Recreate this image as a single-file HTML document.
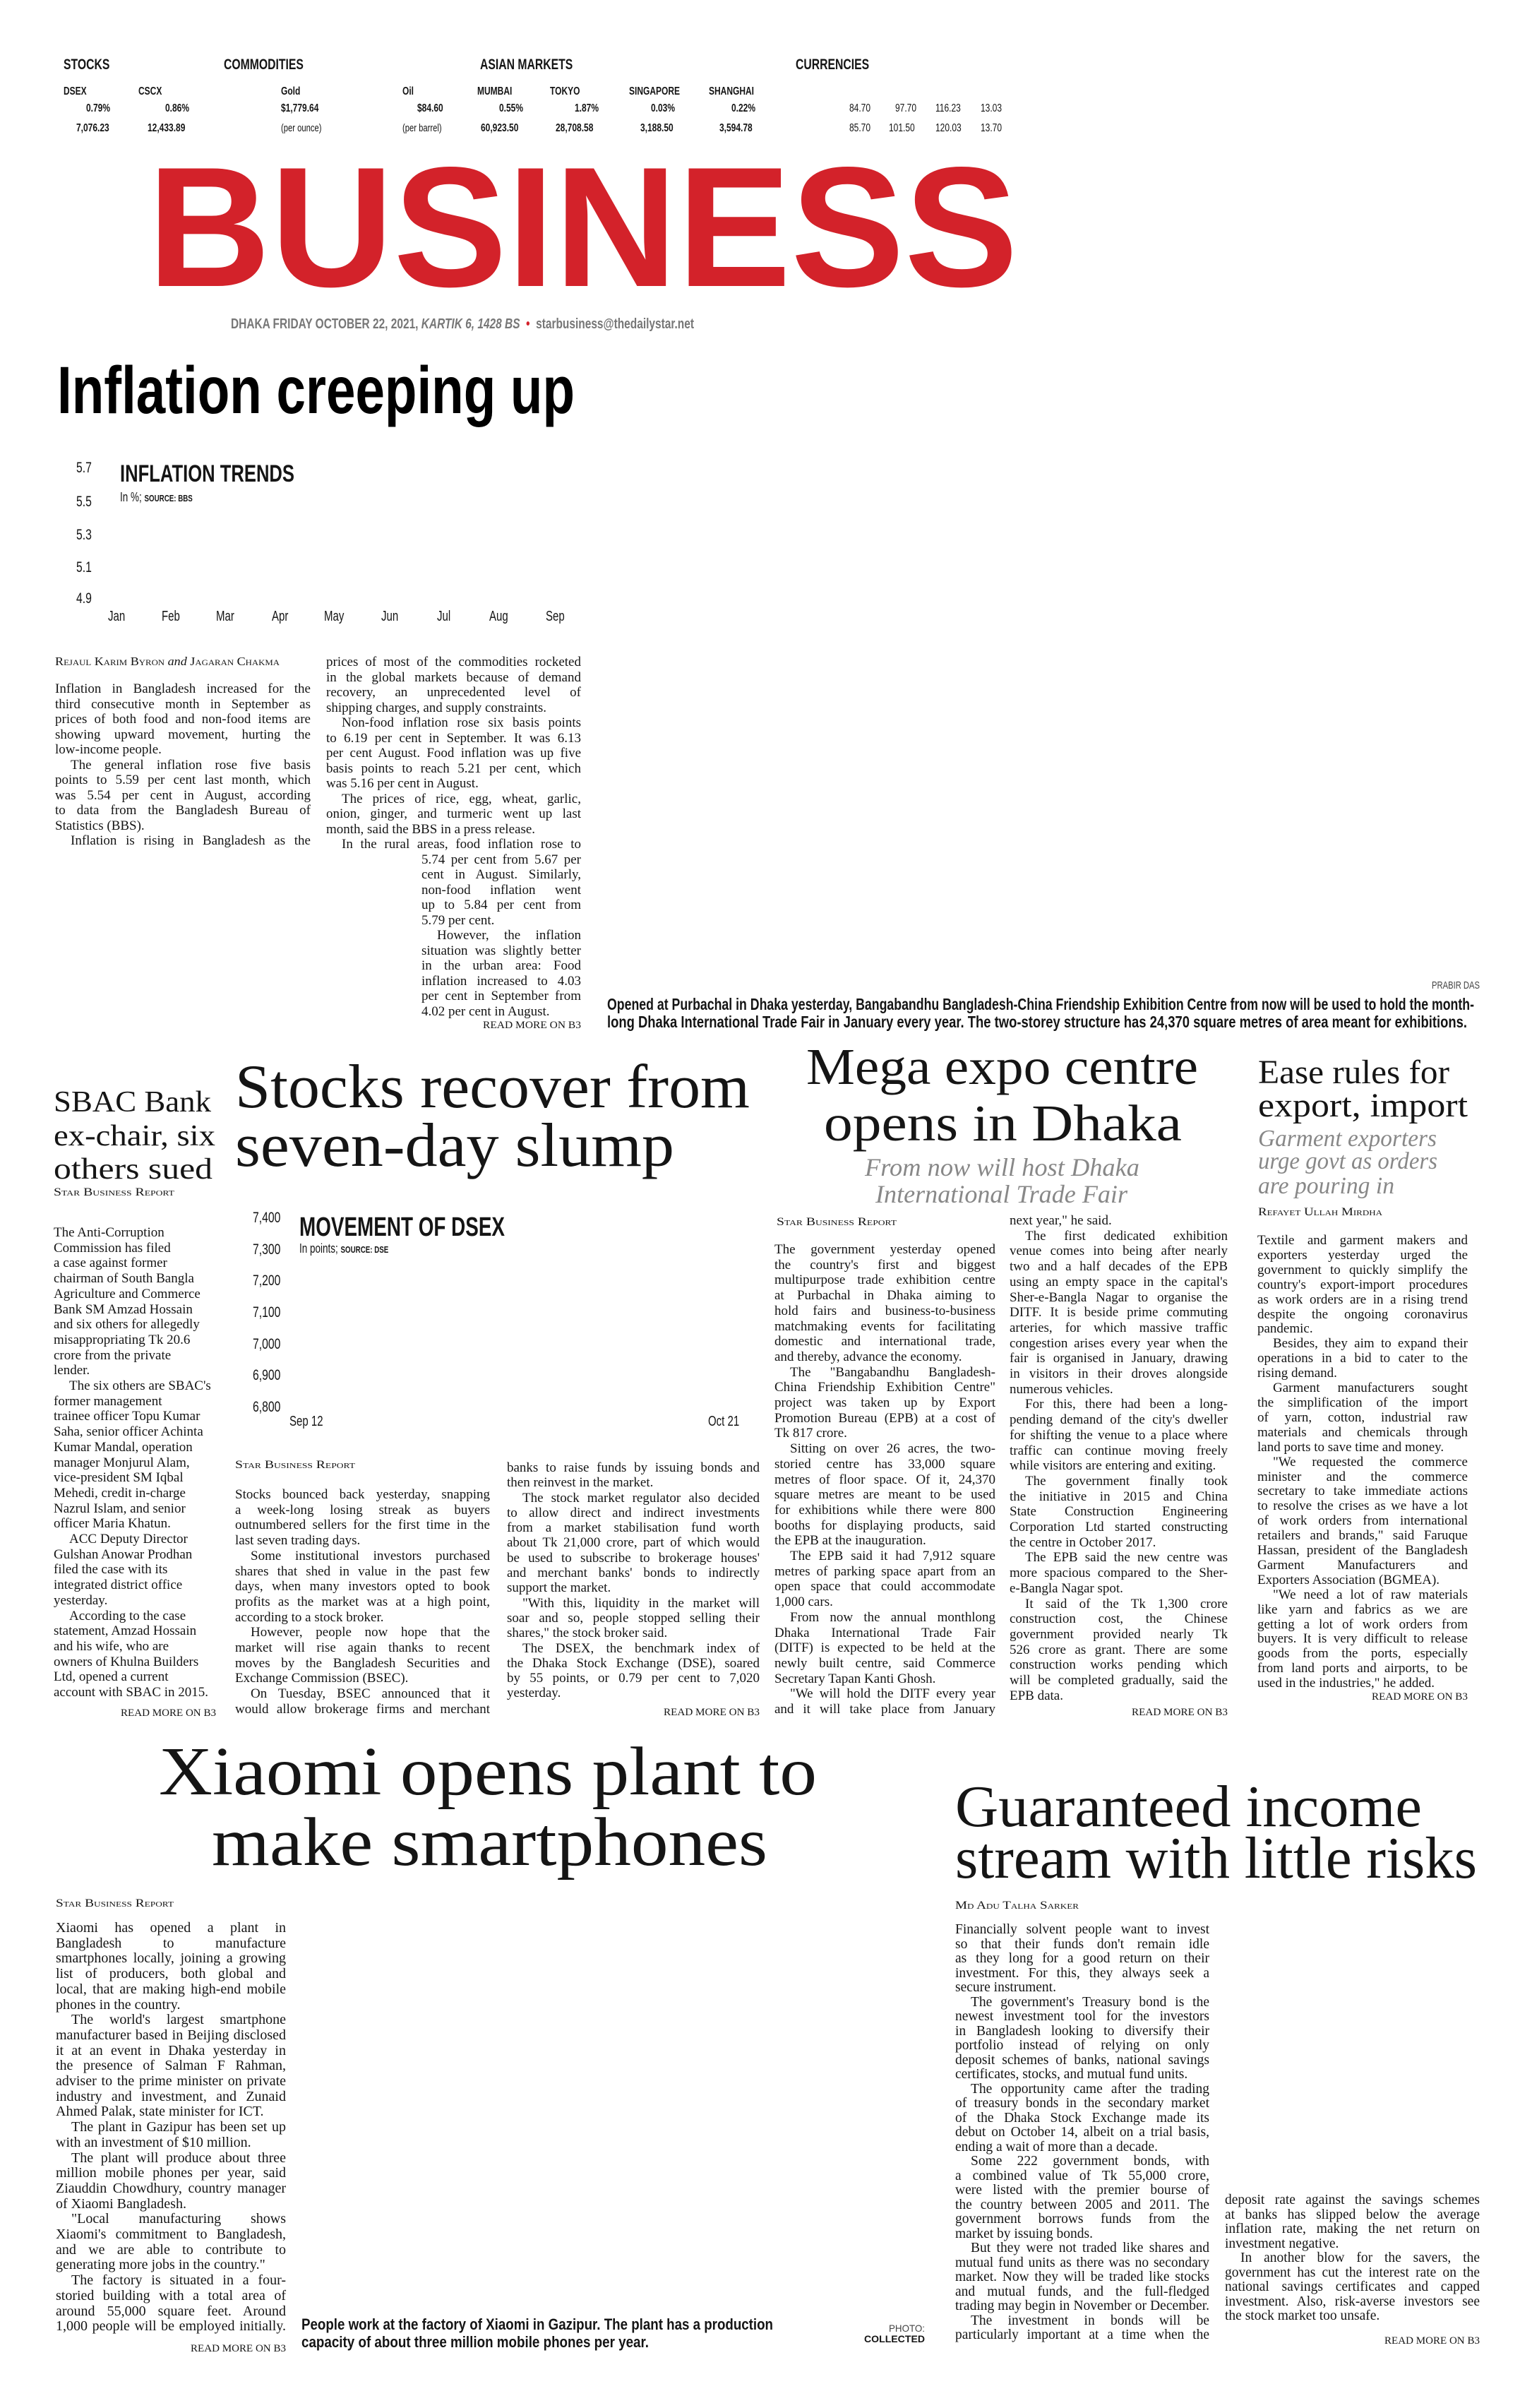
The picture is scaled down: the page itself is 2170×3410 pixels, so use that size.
<!DOCTYPE html>
<html><head><meta charset="utf-8">
<style>
body{margin:0;width:2170px;height:3410px;position:relative;background:#fff;overflow:hidden;font-family:"Liberation Serif",serif;color:#151515}
.a{position:absolute;white-space:nowrap;line-height:1}
.s{font-family:"Liberation Sans",sans-serif}
.b{font-weight:bold}
.n{transform:scaleX(.75);transform-origin:left}
.sc{font-variant:small-caps;font-size:17px}
.col{position:absolute;font-family:"Liberation Serif",serif;font-size:19px;line-height:21.5px}
.col div{text-align:justify;text-align-last:justify}
.col div.l{text-align-last:left}
.col div.i{text-indent:22px}
.rag div{text-align:left;text-align-last:left}
.rm{font-size:15px}
.tk{font-size:16px;font-weight:bold}
</style></head><body>

<!-- ticker -->
<div class="a s b n" style="left:90px;top:81px;font-size:21px">STOCKS</div>
<div class="a s b n" style="left:317px;top:81px;font-size:21px">COMMODITIES</div>
<div class="a s b n" style="left:680px;top:81px;font-size:21px">ASIAN MARKETS</div>
<div class="a s b n" style="left:1127px;top:81px;font-size:21px">CURRENCIES</div>

<div class="a s tk n" style="left:90px;top:122px">DSEX</div>
<div class="a s tk n" style="left:196px;top:122px">CSCX</div>
<div class="a s tk n" style="left:398px;top:122px">Gold</div>
<div class="a s tk n" style="left:570px;top:122px">Oil</div>
<div class="a s tk n" style="left:676px;top:122px">MUMBAI</div>
<div class="a s tk n" style="left:779px;top:122px">TOKYO</div>
<div class="a s tk n" style="left:891px;top:122px">SINGAPORE</div>
<div class="a s tk n" style="left:1004px;top:122px">SHANGHAI</div>

<div class="a s tk n" style="left:122px;top:146px">0.79%</div>
<div class="a s tk n" style="left:234px;top:146px">0.86%</div>
<div class="a s tk n" style="left:398px;top:146px">$1,779.64</div>
<div class="a s tk n" style="left:591px;top:146px">$84.60</div>
<div class="a s tk n" style="left:707px;top:146px">0.55%</div>
<div class="a s tk n" style="left:814px;top:146px">1.87%</div>
<div class="a s tk n" style="left:922px;top:146px">0.03%</div>
<div class="a s tk n" style="left:1036px;top:146px">0.22%</div>
<div class="a s n" style="left:1203px;top:146px;font-size:16px">84.70</div>
<div class="a s n" style="left:1268px;top:146px;font-size:16px">97.70</div>
<div class="a s n" style="left:1325px;top:146px;font-size:16px">116.23</div>
<div class="a s n" style="left:1389px;top:146px;font-size:16px">13.03</div>

<div class="a s tk n" style="left:108px;top:174px">7,076.23</div>
<div class="a s tk n" style="left:209px;top:174px">12,433.89</div>
<div class="a s n" style="left:398px;top:174px;font-size:15px">(per ounce)</div>
<div class="a s n" style="left:570px;top:174px;font-size:15px">(per barrel)</div>
<div class="a s tk n" style="left:681px;top:174px">60,923.50</div>
<div class="a s tk n" style="left:787px;top:174px">28,708.58</div>
<div class="a s tk n" style="left:907px;top:174px">3,188.50</div>
<div class="a s tk n" style="left:1019px;top:174px">3,594.78</div>
<div class="a s n" style="left:1203px;top:174px;font-size:16px">85.70</div>
<div class="a s n" style="left:1259px;top:174px;font-size:16px">101.50</div>
<div class="a s n" style="left:1325px;top:174px;font-size:16px">120.03</div>
<div class="a s n" style="left:1389px;top:174px;font-size:16px">13.70</div>

<!-- masthead -->
<div class="a s b f" style="--w:1233px;left:209px;top:201px;font-size:242px;color:#d3222a">BUSINESS</div>
<div class="a s b f" style="--w:656px;left:327px;top:449px;font-size:20px;color:#777">DHAKA FRIDAY OCTOBER 22, 2021, <i>KARTIK 6, 1428 BS</i> &nbsp;<span style="color:#d3222a">•</span>&nbsp; starbusiness@thedailystar.net</div>

<!-- Inflation -->
<div class="a s b f" style="--w:733px;left:81px;top:506px;font-size:95px;color:#000">Inflation creeping up</div>
<div class="a s n" style="left:108px;top:652px;font-size:21px">5.7</div>
<div class="a s n" style="left:108px;top:700px;font-size:21px">5.5</div>
<div class="a s n" style="left:108px;top:747px;font-size:21px">5.3</div>
<div class="a s n" style="left:108px;top:793px;font-size:21px">5.1</div>
<div class="a s n" style="left:108px;top:837px;font-size:21px">4.9</div>
<div class="a s b f" style="--w:247px;left:170px;top:654px;font-size:34px">INFLATION TRENDS</div>
<div class="a s n" style="left:170px;top:695px;font-size:18px">In %; <b style="font-size:13px">SOURCE: BBS</b></div>
<div class="a s n" style="left:153px;top:863px;font-size:20px">Jan</div>
<div class="a s n" style="left:229px;top:863px;font-size:20px">Feb</div>
<div class="a s n" style="left:306px;top:863px;font-size:20px">Mar</div>
<div class="a s n" style="left:385px;top:863px;font-size:20px">Apr</div>
<div class="a s n" style="left:459px;top:863px;font-size:20px">May</div>
<div class="a s n" style="left:540px;top:863px;font-size:20px">Jun</div>
<div class="a s n" style="left:619px;top:863px;font-size:20px">Jul</div>
<div class="a s n" style="left:693px;top:863px;font-size:20px">Aug</div>
<div class="a s n" style="left:773px;top:863px;font-size:20px">Sep</div>

<div class="a sc f" style="--w:318px;left:78px;top:928px">Rejaul Karim Byron <i style="font-variant:normal">and</i> Jagaran Chakma</div>

<div class="col" style="left:78px;top:965px;width:362px">
<div>Inflation in Bangladesh increased for the</div>
<div>third consecutive month in September as</div>
<div>prices of both food and non-food items are</div>
<div>showing upward movement, hurting the</div>
<div class="l">low-income people.</div>
<div class="i">The general inflation rose five basis</div>
<div>points to 5.59 per cent last month, which</div>
<div>was 5.54 per cent in August, according</div>
<div>to data from the Bangladesh Bureau of</div>
<div class="l">Statistics (BBS).</div>
<div class="i">Inflation is rising in Bangladesh as the</div>
</div>

<div class="col" style="left:462px;top:927px;width:361px">
<div>prices of most of the commodities rocketed</div>
<div>in the global markets because of demand</div>
<div>recovery, an unprecedented level of</div>
<div class="l">shipping charges, and supply constraints.</div>
<div class="i">Non-food inflation rose six basis points</div>
<div>to 6.19 per cent in September. It was 6.13</div>
<div>per cent August. Food inflation was up five</div>
<div>basis points to reach 5.21 per cent, which</div>
<div class="l">was 5.16 per cent in August.</div>
<div class="i">The prices of rice, egg, wheat, garlic,</div>
<div>onion, ginger, and turmeric went up last</div>
<div class="l">month, said the BBS in a press release.</div>
<div class="i">In the rural areas, food inflation rose to</div>
<div style="margin-left:135px">5.74 per cent from 5.67 per</div>
<div style="margin-left:135px">cent in August. Similarly,</div>
<div style="margin-left:135px">non-food inflation went</div>
<div style="margin-left:135px">up to 5.84 per cent from</div>
<div class="l" style="margin-left:135px">5.79 per cent.</div>
<div class="i" style="margin-left:135px">However, the inflation</div>
<div style="margin-left:135px">situation was slightly better</div>
<div style="margin-left:135px">in the urban area: Food</div>
<div style="margin-left:135px">inflation increased to 4.03</div>
<div style="margin-left:135px">per cent in September from</div>
<div class="l" style="margin-left:135px">4.02 per cent in August.</div>
</div>
<div class="a rm f" style="--w:139px;left:684px;top:1445px">READ MORE ON B3</div>

<div class="a s f" style="--w:68px;left:2028px;top:1388px;font-size:15px;color:#444">PRABIR DAS</div>
<div class="a s b f" style="--w:1228px;left:860px;top:1411px;font-size:23px">Opened at Purbachal in Dhaka yesterday, Bangabandhu Bangladesh-China Friendship Exhibition Centre from now will be used to hold the month-</div>
<div class="a s b f" style="--w:1218px;left:860px;top:1436px;font-size:23px">long Dhaka International Trade Fair in January every year. The two-storey structure has 24,370 square metres of area meant for exhibitions.</div>

<!-- Row 2 headlines -->
<div class="a f" style="--w:223px;left:76px;top:1540px;font-size:42px">SBAC Bank</div>
<div class="a f" style="--w:229px;left:76px;top:1588px;font-size:42px">ex-chair, six</div>
<div class="a f" style="--w:225px;left:76px;top:1635px;font-size:42px">others sued</div>

<div class="a f" style="--w:729px;left:333px;top:1496px;font-size:88px">Stocks recover from</div>
<div class="a f" style="--w:622px;left:333px;top:1579px;font-size:88px">seven-day slump</div>

<div class="a f" style="--w:555px;left:1142px;top:1474px;font-size:73px">Mega expo centre</div>
<div class="a f" style="--w:507px;left:1167px;top:1554px;font-size:73px">opens in Dhaka</div>
<div class="a f" style="--w:389px;left:1225px;top:1635px;font-size:36px;font-style:italic;color:#888">From now will host Dhaka</div>
<div class="a f" style="--w:357px;left:1240px;top:1673px;font-size:36px;font-style:italic;color:#888">International Trade Fair</div>

<div class="a f" style="--w:271px;left:1782px;top:1495px;font-size:48px">Ease rules for</div>
<div class="a f" style="--w:297px;left:1782px;top:1542px;font-size:48px">export, import</div>
<div class="a f" style="--w:253px;left:1782px;top:1596px;font-size:34px;font-style:italic;color:#888">Garment exporters</div>
<div class="a f" style="--w:254px;left:1782px;top:1628px;font-size:34px;font-style:italic;color:#888">urge govt as orders</div>
<div class="a f" style="--w:193px;left:1782px;top:1663px;font-size:34px;font-style:italic;color:#888">are pouring in</div>

<div class="a sc f" style="--w:171px;left:76px;top:1681px;font-size:16px">Star Business Report</div>
<div class="a sc f" style="--w:176px;left:1782px;top:1709px;font-size:16px">Refayet Ullah Mirdha</div>
<div class="a sc f" style="--w:170px;left:1100px;top:1723px;font-size:16px">Star Business Report</div>
<div class="a sc f" style="--w:170px;left:333px;top:2067px;font-size:16px">Star Business Report</div>

<!-- DSEX chart -->
<div class="a s n" style="left:358px;top:1714px;font-size:21px">7,400</div>
<div class="a s n" style="left:358px;top:1759px;font-size:21px">7,300</div>
<div class="a s n" style="left:358px;top:1803px;font-size:21px">7,200</div>
<div class="a s n" style="left:358px;top:1848px;font-size:21px">7,100</div>
<div class="a s n" style="left:358px;top:1893px;font-size:21px">7,000</div>
<div class="a s n" style="left:358px;top:1937px;font-size:21px">6,900</div>
<div class="a s n" style="left:358px;top:1982px;font-size:21px">6,800</div>
<div class="a s b f" style="--w:291px;left:424px;top:1719px;font-size:38px">MOVEMENT OF DSEX</div>
<div class="a s n" style="left:424px;top:1759px;font-size:18px">In points; <b style="font-size:13px">SOURCE: DSE</b></div>
<div class="a s n" style="left:410px;top:2003px;font-size:20px">Sep 12</div>
<div class="a s n" style="left:1003px;top:2003px;font-size:20px">Oct 21</div>

<!-- SBAC body -->
<div class="col rag" style="left:76px;top:1735px;width:229px;line-height:21.7px">
<div>The Anti-Corruption</div>
<div>Commission has filed</div>
<div>a case against former</div>
<div>chairman of South Bangla</div>
<div>Agriculture and Commerce</div>
<div>Bank SM Amzad Hossain</div>
<div>and six others for allegedly</div>
<div>misappropriating Tk 20.6</div>
<div>crore from the private</div>
<div>lender.</div>
<div class="i">The six others are SBAC's</div>
<div>former management</div>
<div>trainee officer Topu Kumar</div>
<div>Saha, senior officer Achinta</div>
<div>Kumar Mandal, operation</div>
<div>manager Monjurul Alam,</div>
<div>vice-president SM Iqbal</div>
<div>Mehedi, credit in-charge</div>
<div>Nazrul Islam, and senior</div>
<div>officer Maria Khatun.</div>
<div class="i">ACC Deputy Director</div>
<div>Gulshan Anowar Prodhan</div>
<div>filed the case with its</div>
<div>integrated district office</div>
<div>yesterday.</div>
<div class="i">According to the case</div>
<div>statement, Amzad Hossain</div>
<div>and his wife, who are</div>
<div>owners of Khulna Builders</div>
<div>Ltd, opened a current</div>
<div>account with SBAC in 2015.</div>
</div>
<div class="a rm f" style="--w:135px;left:171px;top:2419px">READ MORE ON B3</div>

<!-- Stocks body -->
<div class="col" style="left:333px;top:2106px;width:361px;line-height:21.7px">
<div>Stocks bounced back yesterday, snapping</div>
<div>a week-long losing streak as buyers</div>
<div>outnumbered sellers for the first time in the</div>
<div class="l">last seven trading days.</div>
<div class="i">Some institutional investors purchased</div>
<div>shares that shed in value in the past few</div>
<div>days, when many investors opted to book</div>
<div>profits as the market was at a high point,</div>
<div class="l">according to a stock broker.</div>
<div class="i">However, people now hope that the</div>
<div>market will rise again thanks to recent</div>
<div>moves by the Bangladesh Securities and</div>
<div class="l">Exchange Commission (BSEC).</div>
<div class="i">On Tuesday, BSEC announced that it</div>
<div>would allow brokerage firms and merchant</div>
</div>
<div class="col" style="left:718px;top:2068px;width:358px;line-height:21.3px">
<div>banks to raise funds by issuing bonds and</div>
<div class="l">then reinvest in the market.</div>
<div class="i">The stock market regulator also decided</div>
<div>to allow direct and indirect investments</div>
<div>from a market stabilisation fund worth</div>
<div>about Tk 21,000 crore, part of which would</div>
<div>be used to subscribe to brokerage houses'</div>
<div>and merchant banks' bonds to indirectly</div>
<div class="l">support the market.</div>
<div class="i">"With this, liquidity in the market will</div>
<div>soar and so, people stopped selling their</div>
<div class="l">shares," the stock broker said.</div>
<div class="i">The DSEX, the benchmark index of</div>
<div>the Dhaka Stock Exchange (DSE), soared</div>
<div>by 55 points, or 0.79 per cent to 7,020</div>
<div class="l">yesterday.</div>
</div>
<div class="a rm f" style="--w:136px;left:940px;top:2418px">READ MORE ON B3</div>

<!-- Mega body -->
<div class="col" style="left:1097px;top:1759px;width:313px;line-height:21.7px">
<div>The government yesterday opened</div>
<div>the country's first and biggest</div>
<div>multipurpose trade exhibition centre</div>
<div>at Purbachal in Dhaka aiming to</div>
<div>hold fairs and business-to-business</div>
<div>matchmaking events for facilitating</div>
<div>domestic and international trade,</div>
<div class="l">and thereby, advance the economy.</div>
<div class="i">The "Bangabandhu Bangladesh-</div>
<div>China Friendship Exhibition Centre"</div>
<div>project was taken up by Export</div>
<div>Promotion Bureau (EPB) at a cost of</div>
<div class="l">Tk 817 crore.</div>
<div class="i">Sitting on over 26 acres, the two-</div>
<div>storied centre has 33,000 square</div>
<div>metres of floor space. Of it, 24,370</div>
<div>square metres are meant to be used</div>
<div>for exhibitions while there were 800</div>
<div>booths for displaying products, said</div>
<div class="l">the EPB at the inauguration.</div>
<div class="i">The EPB said it had 7,912 square</div>
<div>metres of parking space apart from an</div>
<div>open space that could accommodate</div>
<div class="l">1,000 cars.</div>
<div class="i">From now the annual monthlong</div>
<div>Dhaka International Trade Fair</div>
<div>(DITF) is expected to be held at the</div>
<div>newly built centre, said Commerce</div>
<div class="l">Secretary Tapan Kanti Ghosh.</div>
<div class="i">"We will hold the DITF every year</div>
<div>and it will take place from January</div>
</div>
<div class="col" style="left:1430px;top:1718px;width:309px;line-height:21.7px">
<div class="l">next year," he said.</div>
<div class="i">The first dedicated exhibition</div>
<div>venue comes into being after nearly</div>
<div>two and a half decades of the EPB</div>
<div>using an empty space in the capital's</div>
<div>Sher-e-Bangla Nagar to organise the</div>
<div>DITF. It is beside prime commuting</div>
<div>arteries, for which massive traffic</div>
<div>congestion arises every year when the</div>
<div>fair is organised in January, drawing</div>
<div>in visitors in their droves alongside</div>
<div class="l">numerous vehicles.</div>
<div class="i">For this, there had been a long-</div>
<div>pending demand of the city's dweller</div>
<div>for shifting the venue to a place where</div>
<div>traffic can continue moving freely</div>
<div class="l">while visitors are entering and exiting.</div>
<div class="i">The government finally took</div>
<div>the initiative in 2015 and China</div>
<div>State Construction Engineering</div>
<div>Corporation Ltd started constructing</div>
<div class="l">the centre in October 2017.</div>
<div class="i">The EPB said the new centre was</div>
<div>more spacious compared to the Sher-</div>
<div class="l">e-Bangla Nagar spot.</div>
<div class="i">It said of the Tk 1,300 crore</div>
<div>construction cost, the Chinese</div>
<div>government provided nearly Tk</div>
<div>526 crore as grant. There are some</div>
<div>construction works pending which</div>
<div>will be completed gradually, said the</div>
<div class="l">EPB data.</div>
</div>
<div class="a rm f" style="--w:136px;left:1603px;top:2418px">READ MORE ON B3</div>

<!-- Ease body -->
<div class="col" style="left:1781px;top:1747px;width:298px;line-height:20.9px">
<div>Textile and garment makers and</div>
<div>exporters yesterday urged the</div>
<div>government to quickly simplify the</div>
<div>country's export-import procedures</div>
<div>as work orders are in a rising trend</div>
<div>despite the ongoing coronavirus</div>
<div class="l">pandemic.</div>
<div class="i">Besides, they aim to expand their</div>
<div>operations in a bid to cater to the</div>
<div class="l">rising demand.</div>
<div class="i">Garment manufacturers sought</div>
<div>the simplification of the import</div>
<div>of yarn, cotton, industrial raw</div>
<div>materials and chemicals through</div>
<div class="l">land ports to save time and money.</div>
<div class="i">"We requested the commerce</div>
<div>minister and the commerce</div>
<div>secretary to take immediate actions</div>
<div>to resolve the crises as we have a lot</div>
<div>of work orders from international</div>
<div>retailers and brands," said Faruque</div>
<div>Hassan, president of the Bangladesh</div>
<div>Garment Manufacturers and</div>
<div class="l">Exporters Association (BGMEA).</div>
<div class="i">"We need a lot of raw materials</div>
<div>like yarn and fabrics as we are</div>
<div>getting a lot of work orders from</div>
<div>buyers. It is very difficult to release</div>
<div>goods from the ports, especially</div>
<div>from land ports and airports, to be</div>
<div class="l">used in the industries," he added.</div>
</div>
<div class="a rm f" style="--w:136px;left:1943px;top:2396px">READ MORE ON B3</div>

<!-- Row 3 -->
<div class="a f" style="--w:932px;left:225px;top:2460px;font-size:98px">Xiaomi opens plant to</div>
<div class="a f" style="--w:787px;left:300px;top:2560px;font-size:98px">make smartphones</div>
<div class="a f" style="--w:661px;left:1353px;top:2517px;font-size:84px">Guaranteed income</div>
<div class="a f" style="--w:739px;left:1353px;top:2590px;font-size:84px">stream with little risks</div>

<div class="a sc f" style="--w:167px;left:79px;top:2688px;font-size:16px">Star Business Report</div>
<div class="a sc f" style="--w:175px;left:1353px;top:2691px;font-size:16px">Md Adu Talha Sarker</div>

<div class="col" style="left:79px;top:2720px;width:326px;font-size:20px;line-height:21.7px">
<div>Xiaomi has opened a plant in</div>
<div>Bangladesh to manufacture</div>
<div>smartphones locally, joining a growing</div>
<div>list of producers, both global and</div>
<div>local, that are making high-end mobile</div>
<div class="l">phones in the country.</div>
<div class="i">The world's largest smartphone</div>
<div>manufacturer based in Beijing disclosed</div>
<div>it at an event in Dhaka yesterday in</div>
<div>the presence of Salman F Rahman,</div>
<div>adviser to the prime minister on private</div>
<div>industry and investment, and Zunaid</div>
<div class="l">Ahmed Palak, state minister for ICT.</div>
<div class="i">The plant in Gazipur has been set up</div>
<div class="l">with an investment of $10 million.</div>
<div class="i">The plant will produce about three</div>
<div>million mobile phones per year, said</div>
<div>Ziauddin Chowdhury, country manager</div>
<div class="l">of Xiaomi Bangladesh.</div>
<div class="i">"Local manufacturing shows</div>
<div>Xiaomi's commitment to Bangladesh,</div>
<div>and we are able to contribute to</div>
<div class="l">generating more jobs in the country."</div>
<div class="i">The factory is situated in a four-</div>
<div>storied building with a total area of</div>
<div>around 55,000 square feet. Around</div>
<div>1,000 people will be employed initially.</div>
</div>
<div class="a rm f" style="--w:135px;left:270px;top:3319px">READ MORE ON B3</div>

<div class="a s b f" style="--w:668px;left:427px;top:3281px;font-size:22px">People work at the factory of Xiaomi in Gazipur. The plant has a production</div>
<div class="a s b f" style="--w:492px;left:427px;top:3306px;font-size:22px">capacity of about three million mobile phones per year.</div>
<div class="a s f" style="--w:51px;left:1259px;top:3290px;font-size:14px;color:#444">PHOTO:</div>
<div class="a s b f" style="--w:86px;left:1224px;top:3305px;font-size:14px">COLLECTED</div>

<div class="col" style="left:1353px;top:2723px;width:360px;font-size:19.5px;line-height:20.5px">
<div>Financially solvent people want to invest</div>
<div>so that their funds don't remain idle</div>
<div>as they long for a good return on their</div>
<div>investment. For this, they always seek a</div>
<div class="l">secure instrument.</div>
<div class="i">The government's Treasury bond is the</div>
<div>newest investment tool for the investors</div>
<div>in Bangladesh looking to diversify their</div>
<div>portfolio instead of relying on only</div>
<div>deposit schemes of banks, national savings</div>
<div class="l">certificates, stocks, and mutual fund units.</div>
<div class="i">The opportunity came after the trading</div>
<div>of treasury bonds in the secondary market</div>
<div>of the Dhaka Stock Exchange made its</div>
<div>debut on October 14, albeit on a trial basis,</div>
<div class="l">ending a wait of more than a decade.</div>
<div class="i">Some 222 government bonds, with</div>
<div>a combined value of Tk 55,000 crore,</div>
<div>were listed with the premier bourse of</div>
<div>the country between 2005 and 2011. The</div>
<div>government borrows funds from the</div>
<div class="l">market by issuing bonds.</div>
<div class="i">But they were not traded like shares and</div>
<div>mutual fund units as there was no secondary</div>
<div>market. Now they will be traded like stocks</div>
<div>and mutual funds, and the full-fledged</div>
<div>trading may begin in November or December.</div>
<div class="i">The investment in bonds will be</div>
<div>particularly important at a time when the</div>
</div>
<div class="col" style="left:1735px;top:3106px;width:361px;font-size:19.5px;line-height:20.5px">
<div>deposit rate against the savings schemes</div>
<div>at banks has slipped below the average</div>
<div>inflation rate, making the net return on</div>
<div class="l">investment negative.</div>
<div class="i">In another blow for the savers, the</div>
<div>government has cut the interest rate on the</div>
<div>national savings certificates and capped</div>
<div>investment. Also, risk-averse investors see</div>
<div class="l">the stock market too unsafe.</div>
</div>
<div class="a rm f" style="--w:135px;left:1961px;top:3308px">READ MORE ON B3</div>

<script>
document.querySelectorAll('.f').forEach(function(e){
  var w=parseFloat(getComputedStyle(e).getPropertyValue('--w'));
  var r=e.getBoundingClientRect().width;
  if(w&&r){e.style.transformOrigin='left';e.style.transform='scaleX('+(w/r)+')';}
});
document.querySelectorAll('.col div').forEach(function(d){
  var lh=parseFloat(getComputedStyle(d.parentNode).lineHeight);
  var ls=0,n=0;
  while(d.offsetHeight>lh*1.4&&n<60){ls-=0.1;n++;d.style.letterSpacing=ls+'px';}
});
</script>
</body></html>
